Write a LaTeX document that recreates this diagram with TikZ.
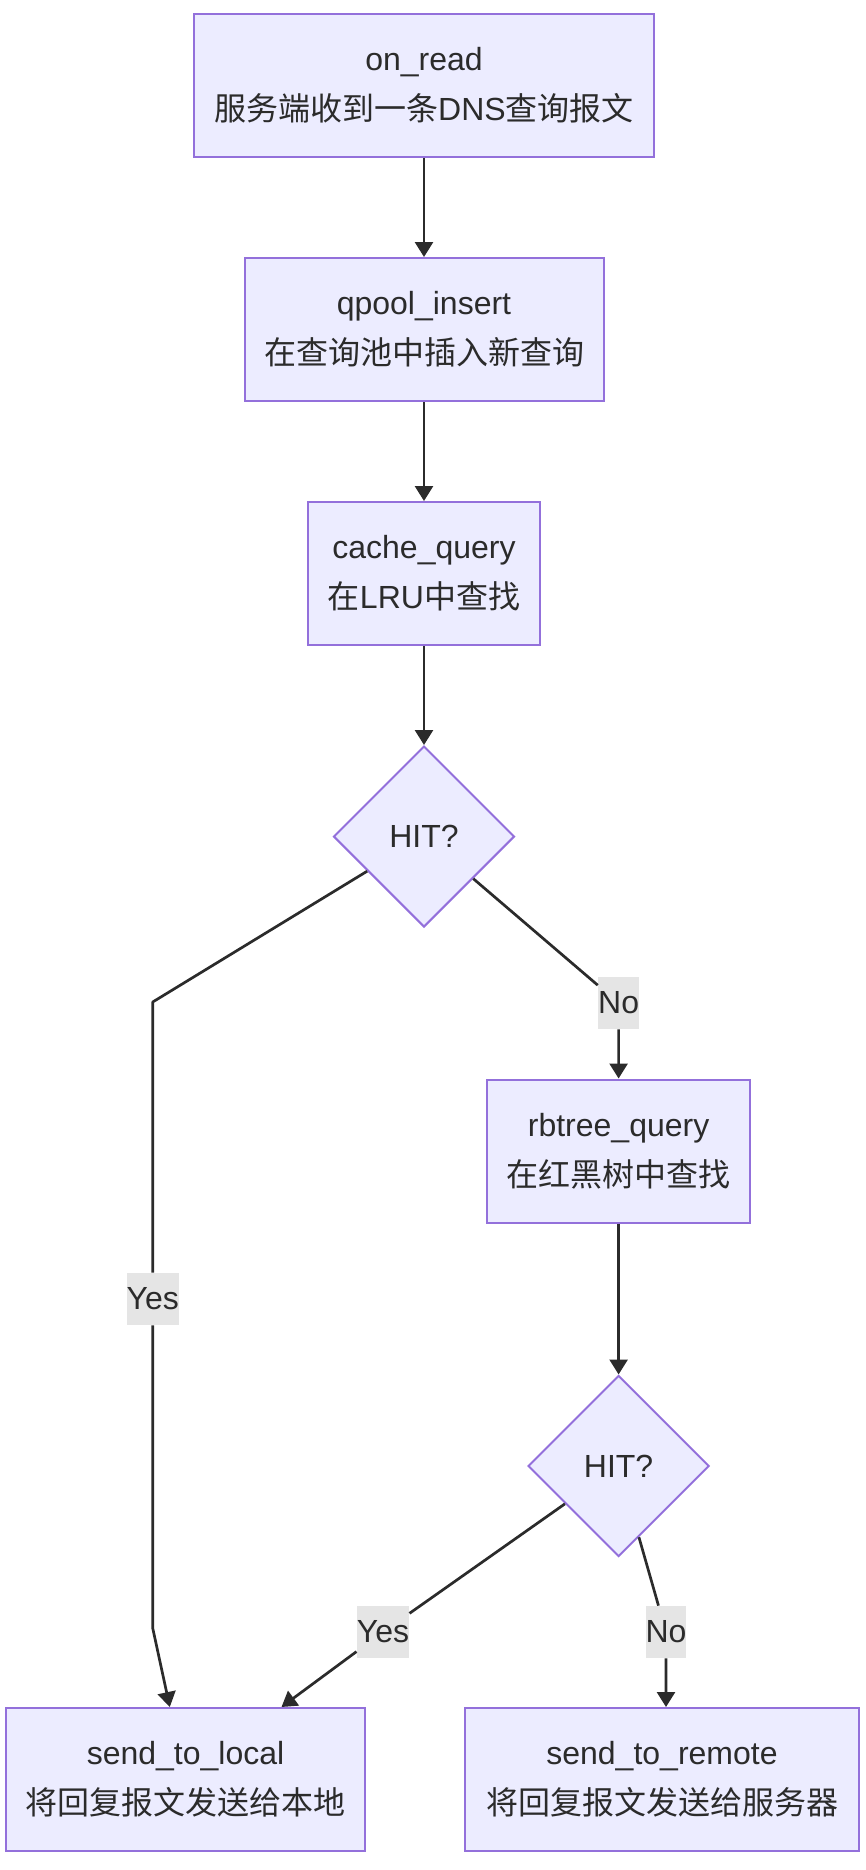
\documentclass[tikz,border=0pt]{standalone}
\usepackage{fontspec}
\setmainfont{Liberation Sans}
\newfontfamily\cjk{Noto Sans CJK SC}
\usepackage{tikz}
\usetikzlibrary{shapes.geometric, arrows.meta, calc}
\definecolor{boxfill}{HTML}{ECECFF}
\definecolor{boxline}{HTML}{9370DB}
\definecolor{ink}{HTML}{2B2B2B}
\definecolor{labelbg}{HTML}{E5E5E5}

\begin{document}
\begin{tikzpicture}[x=0.5pt, y=-0.5pt,
    every node/.style={text=ink, font=\fontsize{16}{25}\selectfont},
    proc/.style={draw=boxline, fill=boxfill, line width=1pt, align=center, minimum height=71.5pt, inner sep=0pt},
    test/.style={draw=boxline, fill=boxfill, line width=1pt, diamond, aspect=1, minimum width=90.5pt, minimum height=90.5pt, inner sep=0pt},
    lab/.style={fill=labelbg, inner xsep=0pt, inner ysep=0pt, minimum height=26pt},
    flow/.style={draw=ink, line width=1.35pt, line join=round, -{Triangle[length=7.5pt, width=9pt]}}]
    % Fix the page size
    \useasboundingbox (0,0) rectangle (866,1870);

    % Draw the steps
    \node[proc, minimum width=230pt] (read) at (424,85.5) {on\_read\\{\cjk 服务端收到一条}DNS{\cjk 查询报文}};
    \node[proc, minimum width=179.5pt] (qpool) at (424,329.5) {qpool\_insert\\{\cjk 在查询池中插入新查询}};
    \node[proc, minimum width=116pt] (cache) at (424,573.5) {cache\_query\\{\cjk 在}LRU{\cjk 中查找}};
    \node[test] (hit1) at (424,836.5) {HIT?};
    \node[proc, minimum width=131.8pt] (rbtree) at (618.6,1151) {rbtree\_query\\{\cjk 在红黑树中查找}};
    \node[test] (hit2) at (618.6,1466) {HIT?};
    \node[proc, minimum width=179.5pt] (local) at (185.5,1779.5) {send\_to\_local\\{\cjk 将回复报文发送给本地}};
    \node[proc, minimum width=197pt] (remote) at (662,1779.5) {send\_to\_remote\\{\cjk 将回复报文发送给服务器}};

    % Edge labels
    \node[lab] (yes1) at (152.7,1299) {Yes};
    \node[lab] (no1) at (618.6,1003) {No};
    \node[lab] (yes2) at (383,1632) {Yes};
    \node[lab] (no2) at (666,1632) {No};
    \coordinate (bend1) at (152.7,1002);
    \coordinate (bend2) at (152.7,1628);

    % Draw the connectors
    \draw[flow] (read) -- (qpool);
    \draw[flow] (qpool) -- (cache);
    \draw[flow] (cache) -- (hit1);
    \draw[flow] (hit1) -- (bend1) -- (yes1) -- (bend2) -- (local);
    \draw[flow] (hit1) -- (no1) -- (rbtree);
    \draw[flow] (rbtree) -- (hit2);
    \draw[flow] (hit2) -- (yes2) -- ($(local.north)+(96,0)$);
    \draw[flow] (hit2) -- (no2) -- (no2 |- remote.north);
\end{tikzpicture}
\end{document}
